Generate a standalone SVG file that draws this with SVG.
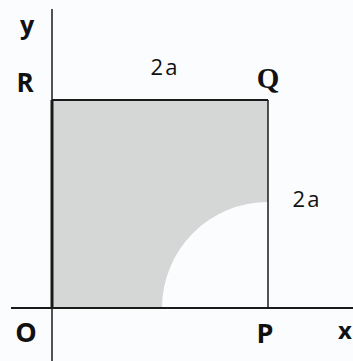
<svg xmlns="http://www.w3.org/2000/svg" width="353" height="361" viewBox="0 0 353 361">
<style>
.lbl{font-family:"Open Sans","DejaVu Sans",sans-serif;fill:#111;}
.b{font-weight:bold;}
.ax{stroke:#1a1a1a;fill:none;}
</style>
<rect width="353" height="361" fill="#fafcfd"/>
<g id="region">
<path d="M52,100 H268 V202 A106,106 0 0 0 162,308 H52 Z" fill="#d5d6d6"/>
</g>
<g id="connectors">
<line class="ax" x1="52" y1="9" x2="52" y2="361" stroke-width="1.5"/>
<line class="ax" x1="52" y1="100" x2="52" y2="308" stroke-width="3"/>
<line class="ax" x1="11" y1="308" x2="353" y2="308" stroke-width="2"/>
<line class="ax" x1="52" y1="100" x2="268" y2="100" stroke-width="2"/>
<line class="ax" x1="268" y1="100" x2="268" y2="308" stroke-width="1.5"/>
</g>
<g id="labels">
<text class="lbl b" x="27" y="34" font-size="25" text-anchor="middle">y</text>
<text class="lbl b" x="25" y="92" font-size="26" text-anchor="middle">R</text>
<text class="lbl" x="165" y="75" font-size="22" letter-spacing="2" text-anchor="middle">2a</text>
<text x="268" y="88" font-size="29" font-weight="bold" text-anchor="middle" font-family="'Liberation Serif',serif" fill="#111">Q</text>
<text class="lbl" x="307" y="207" font-size="22" letter-spacing="2" text-anchor="middle">2a</text>
<text class="lbl b" x="26" y="342" font-size="27" text-anchor="middle">O</text>
<text class="lbl b" x="265" y="343" font-size="27" text-anchor="middle">P</text>
<text class="lbl b" x="345" y="339" font-size="24" text-anchor="middle">x</text>
</g>
</svg>
